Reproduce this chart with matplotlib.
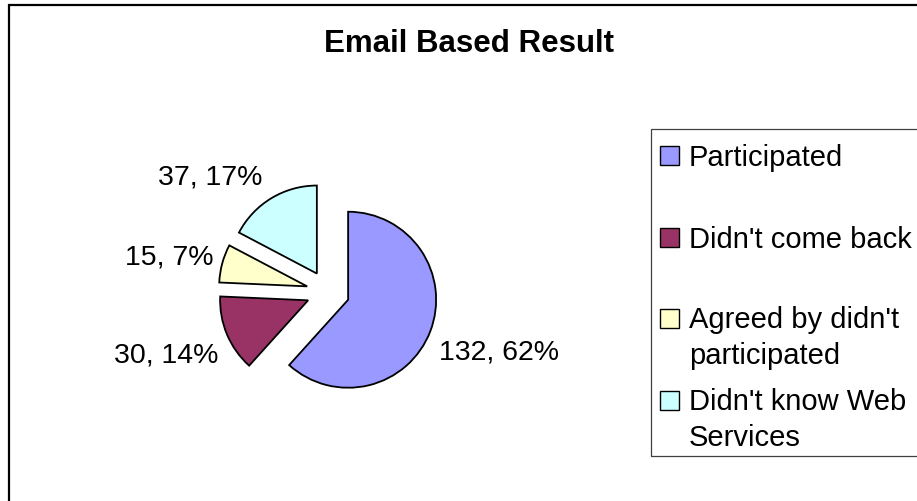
import numpy as np
import matplotlib.pyplot as plt
from matplotlib.patches import Rectangle

# data
categories = ["Participated", "Didn't come back",
              "Agreed by didn't\nparticipated", "Didn't know Web\nServices"]
counts = [132, 30, 15, 37]
colors = ["#9999FF", "#993366", "#FFFFCC", "#CCFFFF"]

plt.rcParams['font.family'] = ['Liberation Sans', 'DejaVu Sans']

W, H = 917, 501
fig = plt.figure(figsize=(W / 100, H / 100), dpi=100)

# pie axes spans the whole figure, 1 data unit = R pixels
R = 88
cx, cy = 328, H - 292
ax = fig.add_axes([0, 0, 1, 1])
explode = 0.245
wedges, _ = ax.pie(counts, colors=colors, startangle=90, counterclock=False,
                   explode=[explode] * len(counts),
                   wedgeprops=dict(edgecolor='black', linewidth=1.3))
ax.set_xlim(-cx / R, (W - cx) / R)
ax.set_ylim(-cy / R, (H - cy) / R)
ax.set_aspect('equal')
ax.axis('off')

# value labels "n, p%", put just outside the arc of each exploded slice
total = sum(counts)
for w, v in zip(wedges, counts):
    ang = np.deg2rad((w.theta1 + w.theta2) / 2)
    c, s = np.cos(ang), np.sin(ang)
    x, y = (explode + 1) * c, (explode + 1) * s
    x += 0.1 * np.sign(c)
    if abs(s) < 0.3:
        va = 'center'
        y += 0.07
    else:
        va = 'bottom' if s > 0 else 'top'
        y += 0.09 * np.sign(s)
    ax.text(x, y, f"{v}, {round(v / total * 100)}%",
            ha='left' if c > 0 else 'right', va=va, fontsize=20.5)

# title
fig.text(469 / W, 1 - 44 / H, "Email Based Result", ha='center', va='center',
         fontsize=22.5, weight='bold')

# outer chart border (right/bottom run off the picture)
fig.add_artist(Rectangle((9 / W, -0.1), 1.2, 0.1 + (H - 5) / H,
                         transform=fig.transFigure, fill=False,
                         ec='black', lw=1.6))

# legend drawn by hand so the entry spacing follows the original
lx0, ly0, ly1 = 651, 129, 456
fig.add_artist(Rectangle((lx0 / W, 1 - ly1 / H), (W + 20 - lx0) / W, (ly1 - ly0) / H,
                         transform=fig.transFigure, fill=False,
                         ec='#404040', lw=0.9))
item_y = [155, 237, 318, 400]
sq = 19
for name, col, yy in zip(categories, colors, item_y):
    fig.add_artist(Rectangle((660 / W, 1 - (yy + sq / 2) / H), sq / W, sq / H,
                             transform=fig.transFigure, fc=col, ec='black', lw=1.0))
    for k, line in enumerate(name.split("\n")):
        fig.text(689 / W, 1 - (yy + 10.5 + 35 * k) / H, line, ha='left',
                 va='baseline', fontsize=21)

fig.savefig("out.png", dpi=100)
